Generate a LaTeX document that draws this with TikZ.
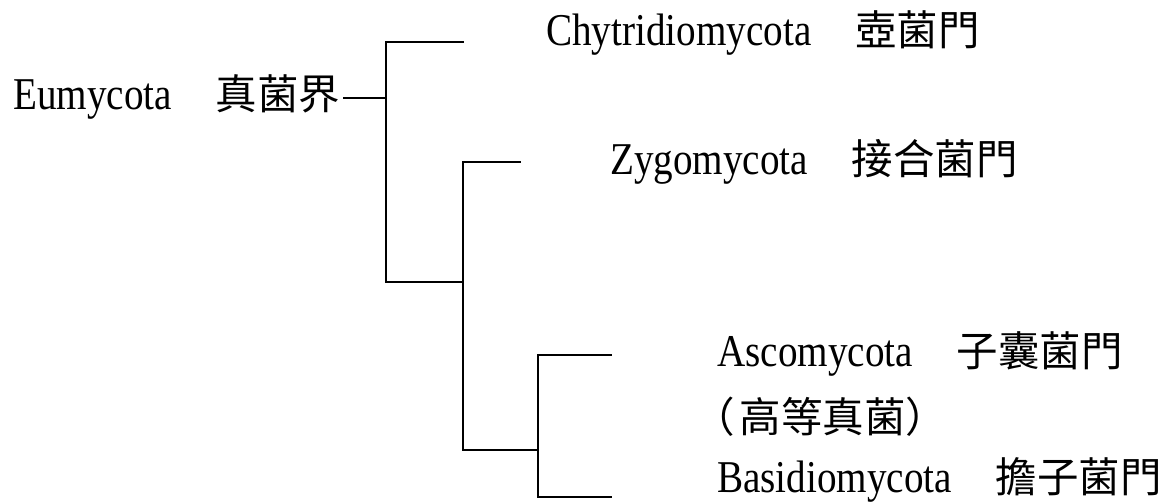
\documentclass[tikz,border=0pt]{standalone}
\usepackage{fontspec}
\setmainfont{Liberation Serif}[FakeStretch=0.86]
\newfontfamily\cjk{Noto Sans CJK TC}
\begin{document}
\begin{tikzpicture}[x=1pt,y=-1pt,
  branch/.style={line width=1.6pt, line cap=rect},
  taxon/.style={anchor=base west, inner sep=0pt, font=\fontsize{45.5}{50}\selectfont}]
\useasboundingbox (0,0) rectangle (1173,502);
\newcommand\zhgap{\hspace{44pt}}
\newcommand\zh{\cjk\fontsize{41.5}{50}\selectfont}

% taxon labels
\node[taxon] (eu)  at (13,110)  {Eumycota\zhgap{\zh 真菌界}};
\node[taxon] (chy) at (546,46)  {Chytridiomycota\zhgap{\zh 壺菌門}};
\node[taxon] (zyg) at (610,175) {Zygomycota\zhgap{\zh 接合菌門}};
\node[taxon] (asc) at (717,367) {Ascomycota\zhgap{\zh 子囊菌門}};
\node[taxon] (hig) at (693,432) {\zh （\hspace{5pt}高等真菌）};
\node[taxon] (bas) at (717,493) {Basidiomycota\zhgap{\zh 擔子菌門}};

% tree joints and branch ends
\coordinate (r0) at (344,98);
\coordinate (a)  at (386,98);
\coordinate (a1) at (386,42);
\coordinate (t1) at (463,42);
\coordinate (a2) at (386,282);
\coordinate (b)  at (463,282);
\coordinate (b1) at (463,162);
\coordinate (z1) at (520,162);
\coordinate (b2) at (463,450);
\coordinate (c)  at (538,450);
\coordinate (c1) at (538,355);
\coordinate (s1) at (611,355);
\coordinate (c2) at (538,497);
\coordinate (s2) at (611,497);

\draw[branch] (r0) -- (a);
\draw[branch] (t1) -- (a1) -- (a2) -- (b);
\draw[branch] (z1) -- (b1) -- (b2) -- (c);
\draw[branch] (s1) -- (c1) -- (c2) -- (s2);
\end{tikzpicture}
\end{document}
